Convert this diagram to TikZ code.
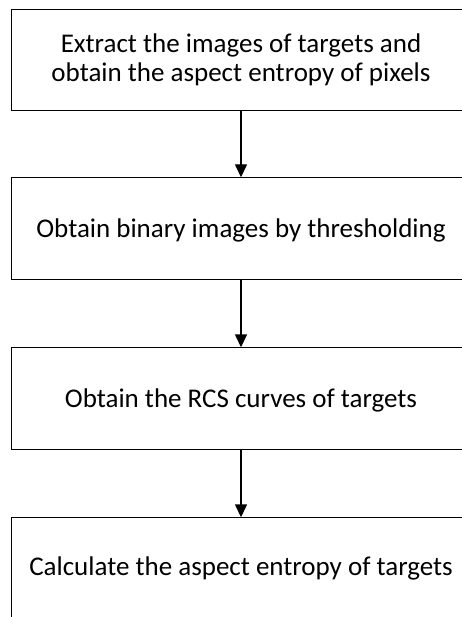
\documentclass[tikz,border=0pt]{standalone}
\usepackage{fontspec}
\setmainfont{Carlito}
\usetikzlibrary{arrows.meta}
\begin{document}
\begin{tikzpicture}[x=1pt,y=-1pt,
  stepbox/.style={line width=1.4pt,minimum width=458pt,inner sep=0pt},
  edge/.style={draw=black,line width=1.4pt},
  label/.style={align=center,font=\fontsize{27}{29.5}\selectfont},
  flow/.style={draw=black,line width=1.4pt,-{Triangle[length=13pt,width=12pt]}}]
\useasboundingbox (0,0) rectangle (461,617);
\node[stepbox,minimum height=100pt] (a) at (241,60) {};
\node[label] (ta) at (241,60) {Extract the images of targets and\\obtain the aspect entropy of pixels};
\node[stepbox,minimum height=101pt] (b) at (241,228.5) {};
\node[label] (tb) at (241,230) {Obtain binary images by thresholding};
\node[stepbox,minimum height=101pt] (c) at (241,398.5) {};
\node[label] (tc) at (241,400) {Obtain the RCS curves of targets};
\node[stepbox,minimum height=108pt] (d) at (241,572) {};
\node[label] (td) at (241,568) {Calculate the aspect entropy of targets};
\foreach \n in {a,b,c}
  \draw[edge] ([xshift=40pt]\n.north east) -- (\n.north west) -- (\n.south west) -- ([xshift=40pt]\n.south east);
\draw[edge] ([xshift=40pt]d.north east) -- (d.north west) -- ([yshift=-20pt]d.south west);
\draw[flow] (a) -- (b);
\draw[flow] (b) -- (c);
\draw[flow] (c) -- (d);
\end{tikzpicture}
\end{document}
